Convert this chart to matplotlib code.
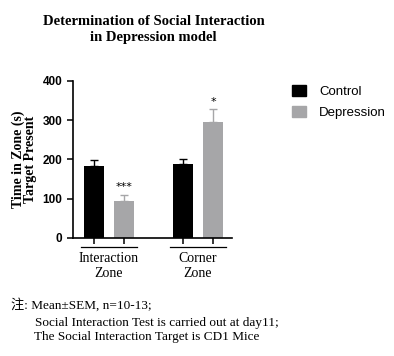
import numpy as np
import matplotlib
matplotlib.use('Agg')
import matplotlib.pyplot as plt
from matplotlib.patches import Patch
import matplotlib.transforms as mtransforms

groups = ['Interaction\nZone', 'Corner\nZone']
series = ['Control', 'Depression']
means = {'Control': [183, 189], 'Depression': [94, 295]}
sems = {'Control': [16, 12], 'Depression': [16, 33]}
stars = ['***', '*']
colors = {'Control': '#000000', 'Depression': '#a6a6a8'}
yticks = [0, 100, 200, 300, 400]

serif = ['Liberation Serif', 'DejaVu Serif']
note_font = ['Liberation Serif', 'Noto Sans CJK SC', 'DejaVu Sans']

fig = plt.figure(figsize=(3.94, 3.56), dpi=100)
ax = fig.add_axes([0.1853, 0.3315, 0.4036, 0.441])

x = np.arange(len(groups))
off = 0.169
w = 0.225
for k, s in enumerate(series):
    pos = x + (off if k else -off)
    ax.bar(pos, means[s], width=w, color=colors[s])
    ax.errorbar(pos, means[s], yerr=[np.zeros(len(groups)), sems[s]], fmt='none',
                ecolor=colors[s], elinewidth=1, capsize=3, capthick=1)
    if k == 1:
        for p, m, e, st in zip(pos, means[s], sems[s], stars):
            ax.text(p, m + e + 6, st, ha='center', va='bottom', fontsize=8,
                    family='DejaVu Sans')

ax.set_xlim(-0.404, 1.382)
ax.set_ylim(0, 400)
ax.set_yticks(yticks)
ax.set_xticks(np.concatenate([x - off, x + off]))
ax.set_xticklabels([])
ax.tick_params(axis='both', length=4, width=1.1, direction='out')
for lab in ax.get_yticklabels():
    lab.set_fontweight('bold')
    lab.set_fontsize(8.5)
    lab.set_family('Liberation Sans')
for sp in ['top', 'right']:
    ax.spines[sp].set_visible(False)
for sp in ['left', 'bottom']:
    ax.spines[sp].set_linewidth(1.2)

trans = mtransforms.blended_transform_factory(ax.transData, ax.transAxes)
for g, name in zip(x, groups):
    ax.plot([g - 0.31, g + 0.31], [-0.057, -0.057], color='black', lw=0.9,
            transform=trans, clip_on=False)
    ax.text(g, -0.09, name, ha='center', va='top', fontsize=10, family=serif,
            transform=trans, linespacing=1.2)

ax.set_ylabel('Time in Zone (s)\nTarget Present', fontsize=10, fontweight='bold',
              family=serif, linespacing=0.95, labelpad=4)

fig.text(0.39, 0.958, 'Determination of Social Interaction\nin Depression model',
         ha='center', va='top', fontsize=10.5, fontweight='bold', family=serif,
         linespacing=1.35)

handles = [Patch(color=colors[s]) for s in series]
fig.legend(handles, series, loc='upper left', bbox_to_anchor=(0.71, 0.795),
           frameon=False, handlelength=1.1, handleheight=0.9,
           handletextpad=1.0, labelspacing=0.6,
           prop={'family': 'Liberation Sans', 'size': 9.5})

fig.text(0.028, 0.143, '注: Mean±SEM, n=10-13;', fontsize=9.5, family=note_font, va='center')
fig.text(0.09, 0.093, 'Social Interaction Test is carried out at day11;', fontsize=9.5,
         family=note_font, va='center')
fig.text(0.086, 0.053, 'The Social Interaction Target is CD1 Mice', fontsize=9.5,
         family=note_font, va='center')

fig.savefig('out.png', dpi=100)
